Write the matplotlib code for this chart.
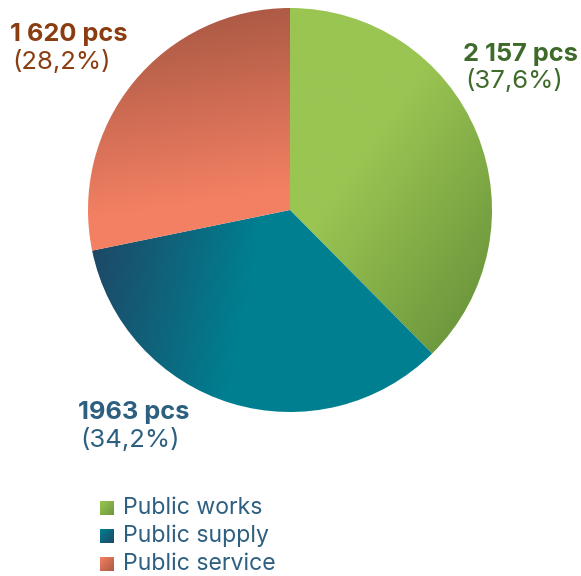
import numpy as np
import matplotlib.pyplot as plt
from matplotlib.colors import LinearSegmentedColormap

categories = ["Public works", "Public supply", "Public service"]
counts = [2157, 1963, 1620]
count_labels = ["2 157 pcs", "1963 pcs", "1 620 pcs"]
pct_labels = ["(37,6%)", "(34,2%)", "(28,2%)"]

# gradient colours (light, dark), direction of darkening, ramp start
grad_colors = [("#9ac552", "#6e983d"), ("#007f91", "#1e4865"), ("#f38063", "#ad5a45")]
grad_dirs = [(1.0, -0.7), (-1.0, 0.2), (-0.15, 1.0)]
grad_start = [0.45, 0.55, 0.15]
text_colors = ["#3e6a2a", "#2d5f80", "#8a3d10"]

W, H = 581, 576
fig = plt.figure(figsize=(W / 100, H / 100), dpi=100)
ax = fig.add_axes([0, 0, 1, 1])

cx, cy, r = 290, H - 210, 202
wedges, _ = ax.pie(counts, startangle=90, counterclock=False, center=(cx, cy),
                   radius=r, frame=True)

n = 400
u = np.linspace(-r, r, n)
X, Y = np.meshgrid(u + cx, u + cy)

for w, cols, d, s0 in zip(wedges, grad_colors, grad_dirs, grad_start):
    w.set_facecolor("none")
    w.set_edgecolor("none")
    d = np.array(d) / np.hypot(*d)
    verts = w.get_patch_transform().transform(w.get_path().vertices)
    p = verts @ d
    proj = X * d[0] + Y * d[1]
    t = (proj - p.min()) / (p.max() - p.min())
    t = np.clip((t - s0) / (1 - s0), 0, 1)
    cmap = LinearSegmentedColormap.from_list("g", cols)
    im = ax.imshow(cmap(t), extent=(cx - r, cx + r, cy - r, cy + r),
                   origin="lower", interpolation="bilinear", zorder=1)
    im.set_clip_path(w)

# slice labels
fam = ["Inter", "DejaVu Sans"]
label_pos = [(463, H - 54), (78, H - 413), (10, H - 35)]
for (x, y), c1, c2, col in zip(label_pos, count_labels, pct_labels, text_colors):
    ax.text(x, y, c1, fontsize=18.3, fontweight="bold", color=col, family=fam,
            ha="left", va="center")
    ax.text(x + 2, y - 27, c2, fontsize=18.5, color=col, family=fam,
            ha="left", va="center")

# legend
for i, (name, cols) in enumerate(zip(categories, grad_colors)):
    y = H - 508 - 28 * i
    s = 14
    cmap = LinearSegmentedColormap.from_list("g", cols)
    g = np.linspace(0, 1, 20)
    sq = cmap(np.clip(np.add.outer(-g, g) * 0.5 + 0.5, 0, 1))
    ax.imshow(sq, extent=(100, 100 + s, y - s / 2, y + s / 2),
              origin="lower", interpolation="bilinear", zorder=2)
    ax.text(123, y, name, fontsize=16.6, color="#2d5f80", family=fam,
            ha="left", va="center")

ax.set_xlim(0, W)
ax.set_ylim(0, H)
ax.set_aspect("equal")
ax.axis("off")
fig.savefig("out.png", dpi=100)
